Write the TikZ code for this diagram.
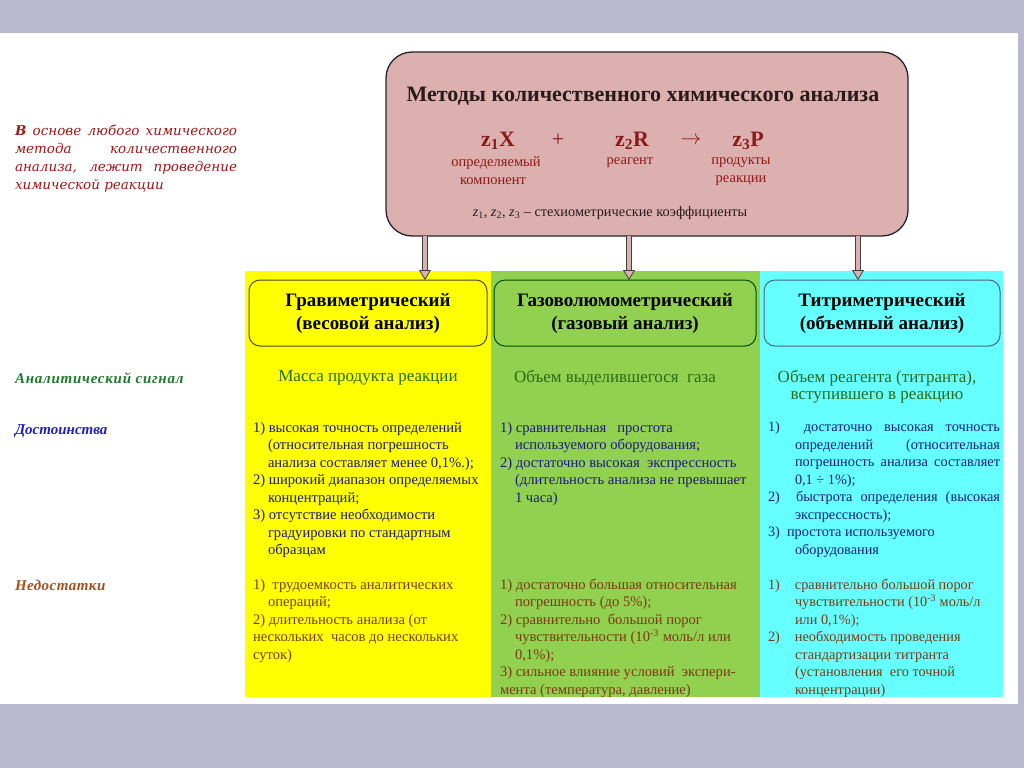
\documentclass[tikz,border=0pt]{standalone}
\usepackage{fontspec}
\setmainfont{Liberation Serif}
\newfontfamily\scr{DejaVu Serif}
\usetikzlibrary{arrows.meta}
\definecolor{lav}{HTML}{B8B8D0}
\definecolor{pinkbox}{HTML}{DDB0B0}
\definecolor{ylw}{HTML}{FFFF00}
\definecolor{grn}{HTML}{92D050}
\definecolor{cyn}{HTML}{66FFFF}
\definecolor{dred}{HTML}{8B1A1A}
\definecolor{titlec}{HTML}{2A1A1A}
\definecolor{advc}{HTML}{1A1A80}
\definecolor{disc}{HTML}{7A3A12}
\definecolor{sigc}{HTML}{2A6A18}
\definecolor{labgreen}{HTML}{1E7A2A}
\definecolor{labblue}{HTML}{2020C0}
\definecolor{labbrown}{HTML}{A0501E}
\definecolor{introc}{HTML}{A01818}
\newcommand\fs[2]{\fontsize{#1}{#2}\selectfont}
\newcommand\ind{\hspace*{15pt}}
\newcommand\cind{\hspace*{27pt}}
\newcommand\js[2]{\makebox[#1pt][s]{#2}}
\tikzset{
  topbox/.style={draw=black!85, line width=1.3pt, fill=pinkbox, rounded corners=26pt},
  hdr/.style={rounded corners=11pt, line width=1pt, align=center, font=\fs{19}{23}\bfseries},
  listtxt/.style={anchor=north west, align=left, font=\fs{14.6}{17.5}},
  cyantxt/.style={anchor=north west, align=left, font=\fs{14.3}{17.5}},
  sig/.style={font=\fs{17}{17}, text=sigc, align=center},
  rowlab/.style={anchor=base west, font=\fs{15}{17}\itshape\bfseries},
  arr/.style={draw=black!75, line width=0.8pt, double=pinkbox, double distance=4pt,
    -{Triangle[open,length=10pt,width=12pt,fill=pinkbox]}},
  eqn/.style={font=\fs{22}{24}\bfseries, text=dred},
  eqlab/.style={font=\fs{14.5}{14}, text=dred}
}
\begin{document}
\begin{tikzpicture}[x=1pt,y=-1pt, every node/.style={inner sep=0pt, outer sep=0pt}]
\useasboundingbox (0,0) rectangle (1024,768);
\fill[lav] (0,0) rectangle (1024,768);
\fill[white] (0,33) rectangle (1018,704);
% columns
\fill[ylw] (245,271) rectangle (491,697);
\fill[grn] (491,271) rectangle (760,697);
\fill[cyn] (760,271) rectangle (1003,697);
% top box
\node[topbox, minimum width=522pt, minimum height=184pt] (top) at (647,144) {};
\node[font=\fs{22}{24}\bfseries, text=titlec] (title) at (643,96) {Методы количественного химического анализа};
\node[eqn] (x) at (498,141) {z\textsubscript{1}X};
\node[font=\fs{22}{24}, text=dred] (plus) at (558,140) {+};
\node[eqn] (r) at (632,141) {z\textsubscript{2}R};
\node[font=\fs{22}{24}, text=dred] (to) at (691,141) {$\rightarrow$};
\node[eqn] (p) at (748,141) {z\textsubscript{3}P};
\node[eqlab] (lx1) at (496,163) {определяемый};
\node[eqlab] (lx2) at (493,181) {компонент};
\node[eqlab] (lr) at (630,163) {реагент};
\node[eqlab] (lp1) at (741,163) {продукты};
\node[eqlab] (lp2) at (741,181) {реакции};
\node[font=\fs{14.3}{14}, text=titlec] (coef) at (610,213) {\textit{z}\textsubscript{1}, \textit{z}\textsubscript{2}, \textit{z}\textsubscript{3} – стехиометрические коэффициенты};
% header boxes
\node[hdr, draw=black!80!yellow, fill=ylw, minimum width=238pt, minimum height=66pt] (h1) at (368,313) {Гравиметрический\\(весовой анализ)};
\node[hdr, draw=black!70!green, fill=grn, minimum width=262pt, minimum height=66pt] (h2) at (625,313) {Газоволюмометрический\\(газовый анализ)};
\node[hdr, draw=black!60!cyan, fill=cyn, minimum width=236pt, minimum height=66pt] (h3) at (882,313) {Титриметрический\\(объемный анализ)};
% arrows
\draw[arr] (top.south -| 425,0) -- (h1.north -| 425,0);
\draw[arr] (top.south -| 629,0) -- (h2.north -| 629,0);
\draw[arr] (top.south -| 858,0) -- (h3.north -| 858,0);
% left labels
\node[anchor=north west, align=left, font=\scr\fs{13.5}{17.8}\itshape, text=introc] (intro) at (15,125)
 {\js{222}{\textbf{В} основе любого химического}\\
  \js{222}{метода количественного}\\
  \js{222}{анализа, лежит проведение}\\
  химической реакции};
\node[rowlab, text=labgreen] (lsig) at (15,383) {\addfontfeature{LetterSpace=5}Аналитический сигнал};
\node[rowlab, text=labblue] (ladv) at (15,434) {Достоинства};
\node[rowlab, text=labbrown] (ldis) at (15,590) {\addfontfeature{LetterSpace=3}Недостатки};
% signal row
\node[sig] (s1) at (368,378) {Масса продукта реакции};
\node[sig] (s2) at (615,378) {Объем выделившегося\ \ газа};
\node[sig] (s3) at (877,387) {Объем реагента (титранта),\\вступившего в реакцию};
% advantages
\node[listtxt, text=advc] (a1) at (253,422)
 {1) высокая точность определений\\
  \ind(относительная погрешность\\
  \ind анализа составляет менее 0,1\%.);\\
  2) широкий диапазон определяемых\\
  \ind концентраций;\\
  3) отсутствие необходимости\\
  \ind градуировки по стандартным\\
  \ind образцам};
\node[listtxt, text=advc] (a2) at (500,422)
 {1) сравнительная\ \ \ простота\\
  \ind используемого оборудования;\\
  2) достаточно высокая\ \ экспрессность\\
  \ind(длительность анализа не превышает\\
  \ind 1 часа)};
\node[cyantxt, text=advc] (a3) at (768,422)
 {\js{232}{1)\ \ достаточно высокая точность}\\
  \cind\js{205}{определений (относительная}\\
  \cind\js{205}{погрешность анализа составляет}\\
  \cind 0,1 ÷ 1\%);\\
  \js{232}{2)\ \ быстрота определения (высокая}\\
  \cind экспрессность);\\
  3)\ \ простота используемого\\
  \cind оборудования};
% disadvantages
\node[listtxt, text=disc] (d1) at (253,579)
 {1)\ \ трудоемкость аналитических\\
  \ind операций;\\
  2) длительность анализа (от\\
  нескольких\ \ часов до нескольких\\
  суток)};
\node[listtxt, text=disc] (d2) at (500,579)
 {1) достаточно большая относительная\\
  \ind погрешность (до 5\%);\\
  2) сравнительно\ \ большой порог\\
  \ind чувствительности (10\textsuperscript{-3} моль/л или\\
  \ind 0,1\%);\\
  3) сильное влияние условий\ \ экспери-\\
  мента (температура, давление)};
\node[cyantxt, text=disc] (d3) at (768,579)
 {1)\hspace*{15pt}сравнительно большой порог\\
  \cind чувствительности (10\textsuperscript{-3} моль/л\\
  \cind или 0,1\%);\\
  2)\hspace*{15pt}необходимость проведения\\
  \cind стандартизации титранта\\
  \cind(установления\ \ его точной\\
  \cind концентрации)};
\end{tikzpicture}
\end{document}
